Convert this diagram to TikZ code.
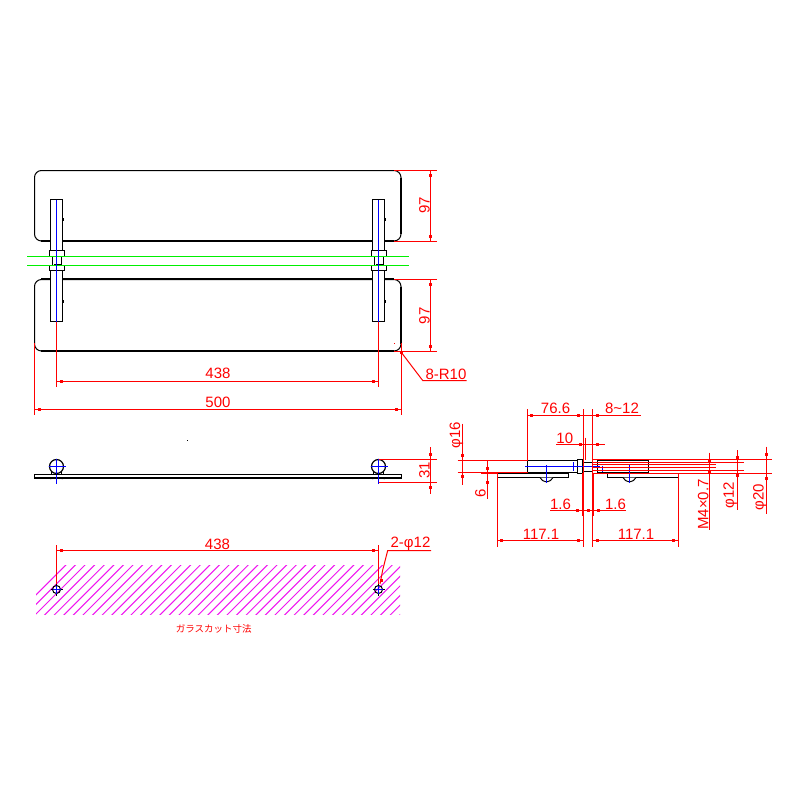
\documentclass[tikz,border=0pt]{standalone}
\usepackage{fontspec}
\setmainfont{Liberation Sans}
\newfontfamily\cjkfont{Noto Sans CJK JP}
\definecolor{hatchm}{RGB}{240,20,240}
\definecolor{greenline}{RGB}{0,240,0}
\tikzset{
  thinb/.style={draw=black,line width=1pt},
  thickb/.style={draw=black,line width=2pt},
  dimline/.style={draw=red,line width=1pt},
  dimthick/.style={draw=red,line width=2pt},
  axisb/.style={draw=blue,line width=1.4pt},
  greenl/.style={draw=greenline,line width=1pt},
  dimtext/.style={text=red,inner sep=0pt,font=\fontsize{15}{15}\selectfont},
  dimrot/.style={dimtext,rotate=90},
}
\newcommand\tk[2]{\fill[red] ({#1-1.5},{#2-1.5}) rectangle ++(3,3);}
\newcommand\panel[2]{%
  \draw[thinb,rounded corners=7pt] (34.5,#1) rectangle (401,#2);
  \draw[thickb] (41,#2) -- (394,#2);
  \draw[thickb] (401,{#1+7}) -- (401,{#2-7});
}
\newcommand\bracket[1]{%
  \draw[thinb,fill=white] ({#1-6},199.5) rectangle ({#1+6},250.5);
  \fill ({#1+6},217.5) rectangle ({#1+7.5},220.5);
  \draw[thinb,fill=white] ({#1-7},250.5) rectangle ({#1+8},256.5);
  \draw[thinb,fill=white] ({#1-4},256.5) rectangle ({#1+5},265.5);
  \draw[thinb,fill=white] ({#1-7},265.5) rectangle ({#1+8},270.5);
  \draw[thinb,fill=white] ({#1-6},270.5) rectangle ({#1+6},321.5);
  \fill ({#1+6},299.5) rectangle ({#1+7.5},302.5);
  \fill ({#1-3},263.5) rectangle ({#1+4},265.5);
}
\newcommand\sidefix[1]{%
  \draw[draw=black,line width=1.2pt,fill=white] (#1,466.5) circle (7);
  \draw[thinb] ({#1-5},470.5) -- ({#1-5},474);
  \draw[thinb] ({#1+5},470.5) -- ({#1+5},474);
  \draw[draw=black,line width=1.2pt] ({#1-6},479) arc (180:360:6 and 3.6);
  \draw[axisb] ({#1-8},466.5) -- ({#1+9},466.5);
  \draw[axisb] (#1,458.5) -- (#1,474.5);
}
\newcommand\hole[1]{%
  \draw[thinb] ({#1-6},589.5) -- ({#1+6},589.5);
  \draw[thinb] (#1,583.5) -- (#1,595.5);
  \draw[thinb] (#1,589.5) circle (4);
  \draw[axisb] ({#1-4},589.5) -- ({#1+4},589.5);
  \draw[axisb] (#1,585.5) -- (#1,593.5);
}
\newcommand\head[1]{%
  \draw[thinb,fill=white] ({#1-6.5},477.5) -- ({#1-4},480.5) -- ({#1-1.5},481.5) -- ({#1+1.5},481.5) -- ({#1+4},480.5) -- ({#1+6.5},477.5);
  \draw[axisb] (#1,465) -- (#1,483);
}
\begin{document}
\begin{tikzpicture}[x=1pt,y=-1pt]
\useasboundingbox (0,0) rectangle (800,800);
\fill[white] (0,0) rectangle (800,800);

% --- plan view ---
\panel{170.5}{241}
\panel{279.5}{351}
\draw[thickb] (41,279) -- (394,279);
\bracket{56.5}
\bracket{378.5}
\draw[greenl] (27,256.5) -- (409,256.5);
\draw[greenl] (27,265.5) -- (409,265.5);
\draw[axisb] (56.5,199.5) -- (56.5,321.5);
\draw[axisb] (378.5,199.5) -- (378.5,321.5);

% dimensions of the plan view
\draw[dimline] (394,170.5) -- (437,170.5);
\draw[dimline] (394,241.5) -- (437,241.5);
\draw[dimline] (394,279.5) -- (437,279.5);
\draw[dimline] (394,351.5) -- (437,351.5);
\draw[dimline] (430.5,170.5) -- (430.5,241.5);
\draw[dimline] (430.5,279.5) -- (430.5,351.5);
\tk{430.5}{175.5}\tk{430.5}{236.5}\tk{430.5}{284.5}\tk{430.5}{346.5}
\node[dimrot] (h1) at (424.5,205) {97};
\node[dimrot] (h2) at (424.5,315.7) {97};

\draw[dimline] (56.5,321.5) -- (56.5,386.5);
\draw[dimline] (378.5,321.5) -- (378.5,386.5);
\draw[dimline] (56.5,381.5) -- (378.5,381.5);
\tk{61.5}{381.5}\tk{373.5}{381.5}
\node[dimtext] (w438) at (218,373.5) {438};
\draw[dimline] (34.5,343) -- (34.5,415);
\draw[dimline] (401.5,343) -- (401.5,415);
\draw[dimline] (34.5,409.5) -- (401.5,409.5);
\tk{39.5}{409.5}\tk{396.5}{409.5}
\node[dimtext] (w500) at (218,402) {500};
\draw[dimline] (401,352) -- (422.7,380.5) -- (466.7,380.5);
\tk{401.5}{352.5}
\fill[red] (394,343) rectangle ++(1,1);
\node[dimtext] (r10) at (446,374) {8-R10};
\fill (187,440) rectangle ++(1,1);

% --- side view ---
\sidefix{56.5}
\sidefix{378.5}
\draw[thinb,fill=white] (34.5,474.5) rectangle (401.5,478.5);
\draw[thickb] (34.5,478) -- (401.5,478);
\draw[axisb] (56.5,474.5) -- (56.5,483.5);
\draw[axisb] (378.5,474.5) -- (378.5,483.5);
\draw[dimline] (378.5,459.5) -- (437,459.5);
\draw[dimline] (378.5,482.5) -- (437,482.5);
\draw[dimline] (430.5,447) -- (430.5,494);
\tk{430.5}{454.5}\tk{430.5}{487.5}
\node[dimrot] (h31) at (424.5,470) {31};

% --- glass cut ---
\begin{scope}
\clip (36,565) rectangle (400,614);
\foreach \k in {-2,...,42}{
  \draw[hatchm,line width=1pt] ({30+\k*9.6},620) -- ({30+\k*9.6+62},558);
}
\end{scope}
\hole{56.5}
\hole{378.5}
\draw[dimline] (56.5,545) -- (56.5,584);
\draw[dimline] (378.5,545) -- (378.5,584);
\draw[dimline] (56.5,550.5) -- (378.5,550.5);
\tk{61.5}{550.5}\tk{373.5}{550.5}
\node[dimtext] (g438) at (217.5,544) {438};
\draw[dimline] (380,584) -- (382.7,570) -- (387.7,550.5) -- (431,550.5);
\tk{381.5}{580.5}
\node[dimtext] (g2) at (410.5,544) {2-φ12};
\node[text=red,inner sep=0pt,font=\cjkfont\fontsize{9.5}{10}\selectfont] (cut) at (213.7,628.5) {ガラスカット寸法};

% --- detail view ---
\draw[thinb] (527.5,460.5) rectangle (577.5,472.5);
\draw[thickb] (527.5,473) -- (569,473);
\draw[thinb] (577.5,459.5) rectangle (582.5,473.5);
\draw[thinb] (582.5,462.5) rectangle (592.5,471.5);
\draw[thinb] (592.5,459.5) rectangle (597.5,473.5);
\draw[thinb] (597.5,460.5) rectangle (648.5,472.5);
\draw[thinb] (497.5,473.5) rectangle (568.5,477.5);
\draw[thinb] (607.5,473.5) rectangle (678.5,477.5);
\head{546.5}
\head{629.5}
\draw[axisb] (525,466.5) -- (600,466.5);
\draw[axisb] (573.5,462) -- (573.5,471);
\draw[axisb] (602.5,465.5) -- (602.5,472);
\draw[greenl] (583.5,462) -- (583.5,464);
\draw[greenl] (583.5,470) -- (583.5,472);

% red extension lines of the detail view
\draw[dimline] (593,459.5) -- (772,459.5);
\draw[dimline] (593,473.5) -- (772,473.5);
\draw[dimline] (593,462.5) -- (744,462.5);
\draw[dimline] (593,470.5) -- (744,470.5);
\draw[dimline] (593,464.5) -- (716,464.5);
\draw[dimline] (593,467.5) -- (716,467.5);

\draw[dimline] (709.5,452.5) -- (709.5,529.5);
\tk{709.5}{461.5}\tk{709.5}{471.5}
\node[dimrot] (m4) at (703.3,504.5) {M4×0.7};
\draw[dimline] (737.5,450) -- (737.5,510);
\tk{737.5}{457.5}\tk{737.5}{475.5}
\node[dimrot] (p12) at (730.3,495) {φ12};
\draw[dimline] (766.5,446.5) -- (766.5,513.5);
\tk{766.5}{454.5}\tk{766.5}{478.5}
\node[dimrot] (p20) at (760,497.5) {φ20};

\draw[dimline] (527.5,409) -- (527.5,460.5);
\draw[dimline] (583.5,409) -- (583.5,546.5);
\draw[dimline] (592.5,409) -- (592.5,546.5);
\draw[dimthick] (583,473) -- (583,516);
\draw[dimthick] (593,473) -- (593,516);
\draw[dimline] (527.5,415.5) -- (640.5,415.5);
\tk{531.5}{415.5}\tk{578.5}{415.5}\tk{597.5}{415.5}
\node[dimtext] (d766) at (555.5,408) {76.6};
\node[dimtext] (d812) at (622,408) {8\char"007E 12};

\draw[dimline] (585.5,437.5) -- (585.5,460);
\draw[dimline] (556,444.5) -- (605,444.5);
\tk{580.5}{444.5}\tk{597.5}{444.5}
\node[dimtext] (d10) at (564.8,438) {10};

\draw[dimline] (550,510.5) -- (625.5,510.5);
\tk{577.5}{510.5}\tk{588.5}{510.5}\tk{598.5}{510.5}
\node[dimtext] (d16a) at (560.5,504) {1.6};
\node[dimtext] (d16b) at (615.5,504) {1.6};

\draw[dimline] (497.5,473) -- (497.5,546.5);
\draw[dimline] (678.5,474) -- (678.5,546.5);
\draw[dimline] (497.5,540.5) -- (583.5,540.5);
\draw[dimline] (592.5,540.5) -- (678.5,540.5);
\tk{501.5}{540.5}\tk{578.5}{540.5}\tk{597.5}{540.5}\tk{673.5}{540.5}
\node[dimtext] (d117a) at (541,534) {117.1};
\node[dimtext] (d117b) at (636,534) {117.1};

\draw[dimline] (457.5,460.5) -- (527.5,460.5);
\draw[dimline] (457.5,472.5) -- (527.5,472.5);
\draw[dimline] (462.5,423.5) -- (462.5,484.5);
\tk{462.5}{455.5}\tk{462.5}{476.5}
\node[dimrot] (p16) at (456.5,435) {φ16};

\draw[dimline] (481,473.5) -- (497.5,473.5);
\draw[dimline] (487.5,461) -- (487.5,498.5);
\tk{487.5}{468.5}\tk{487.5}{482.5}
\node[dimrot] (d6) at (480.5,493) {6};
\end{tikzpicture}
\end{document}
